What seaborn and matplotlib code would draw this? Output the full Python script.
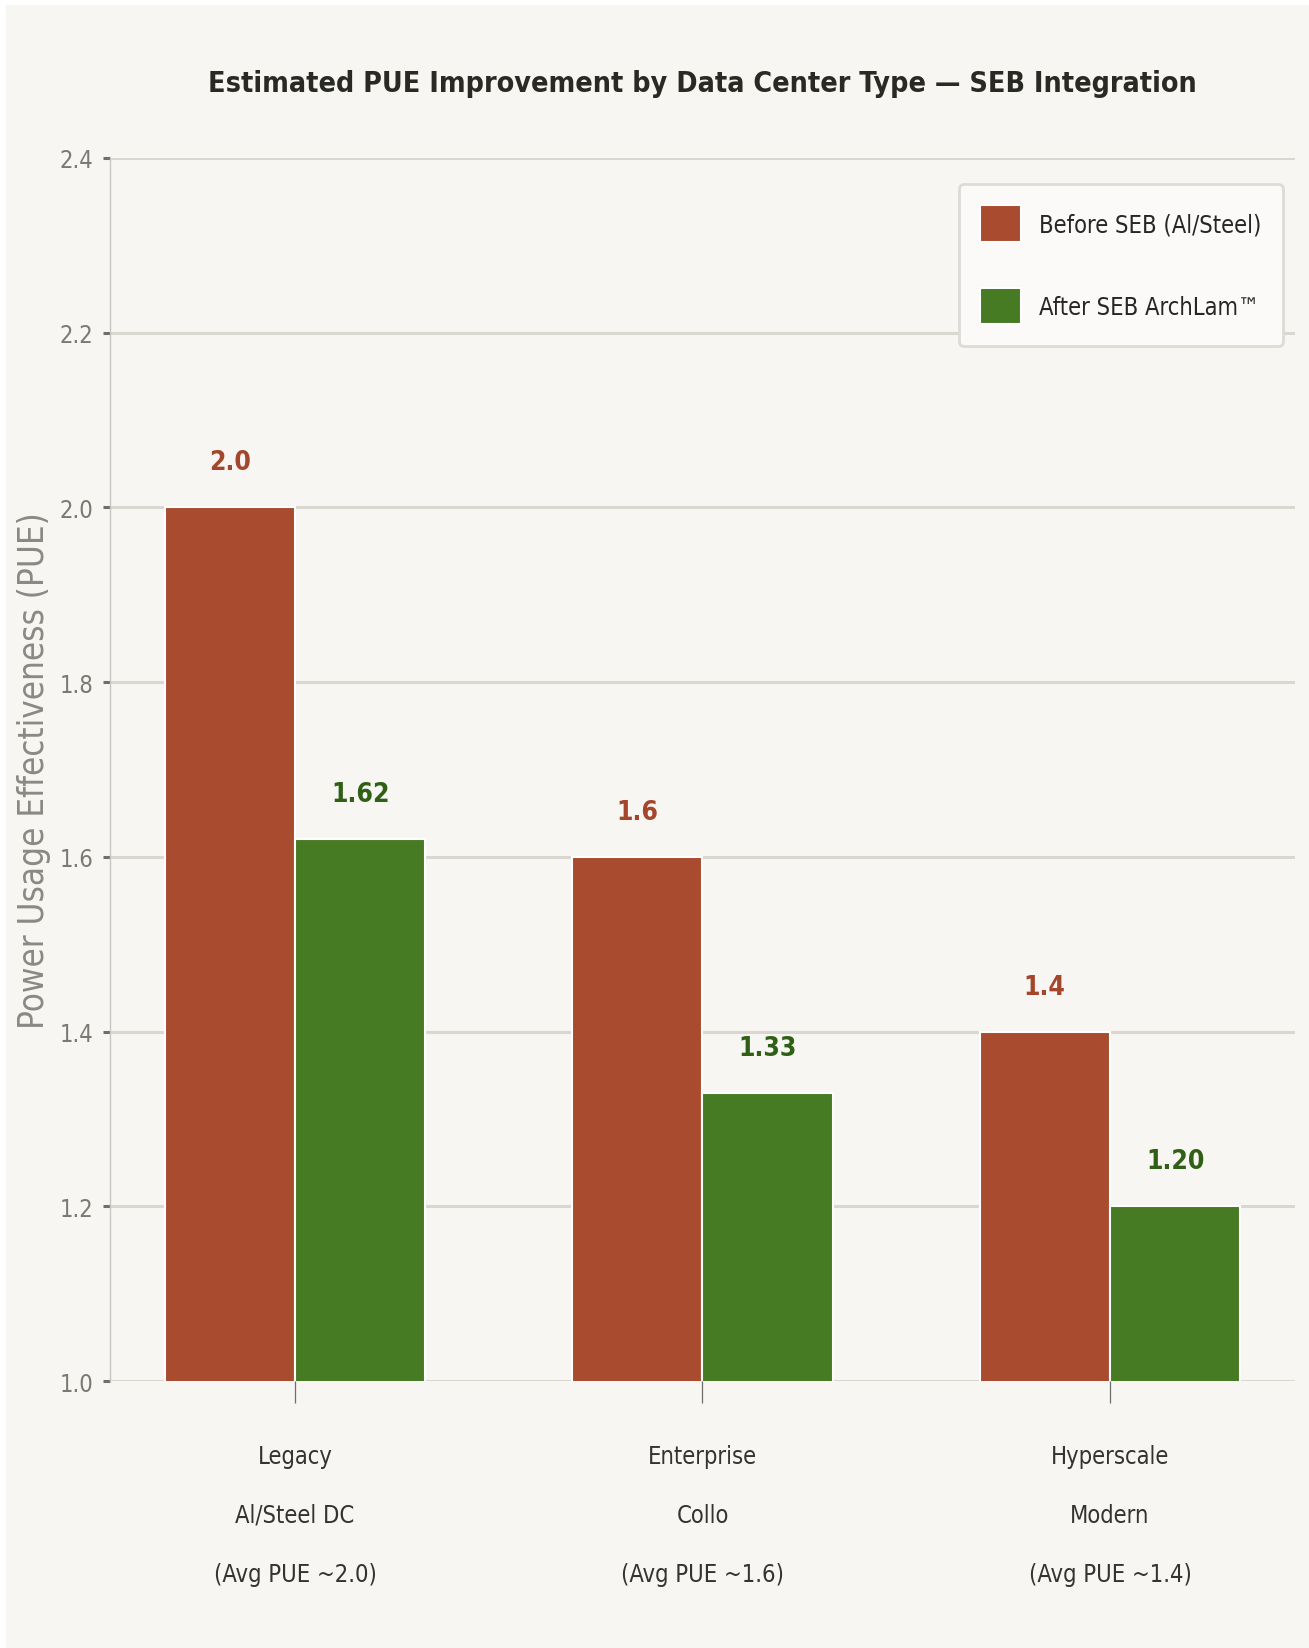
import matplotlib.pyplot as plt
import pandas as pd
import seaborn as sns
from matplotlib import font_manager
from matplotlib.patches import Rectangle

categories = [
    "Legacy\nAl/Steel DC\n(Avg PUE ~2.0)",
    "Enterprise\nCollo\n(Avg PUE ~1.6)",
    "Hyperscale\nModern\n(Avg PUE ~1.4)",
]
series = ["Before SEB (Al/Steel)", "After SEB ArchLam™"]
before_seb = [2.0, 1.6, 1.4]
after_seb = [1.62, 1.33, 1.20]
before_labels = ["2.0", "1.6", "1.4"]
after_labels = ["1.62", "1.33", "1.20"]
yticks = [1.0, 1.2, 1.4, 1.6, 1.8, 2.0, 2.2, 2.4]

BG = "#F7F6F2"
RED = "#A84B2F"
GREEN = "#467A23"
GRID = "#D9D7D0"


def pick_font():
    narrow = [
        f.name
        for f in font_manager.fontManager.ttflist
        if f.stretch == "condensed" or "Condensed" in f.name or "Narrow" in f.name
    ]
    for name in narrow:
        if "DejaVu" in name:
            return name
    if "Liberation Sans Narrow" in narrow:
        return "Liberation Sans Narrow"
    return "DejaVu Sans"


def main():
    frame = pd.DataFrame({"category": categories, series[0]: before_seb, series[1]: after_seb})
    frame = frame.melt(id_vars="category", var_name="series", value_name="pue")

    sns.set_theme(style="whitegrid")
    plt.rcParams["font.family"] = [pick_font(), "DejaVu Sans"]
    plt.rcParams["font.stretch"] = "condensed"

    fig = plt.figure(figsize=(13.09, 16.49), dpi=100, facecolor="white")
    fig.add_artist(Rectangle((0.0046, 0), 1, 0.9963, transform=fig.transFigure, color=BG, zorder=-1))
    ax = fig.add_axes([0.0840, 0.1619, 0.9053, 0.7417])
    ax.set_facecolor(BG)

    sns.barplot(
        data=frame,
        x="category",
        y="pue",
        hue="series",
        palette=[RED, GREEN],
        saturation=1,
        width=0.64,
        errorbar=None,
        edgecolor="white",
        linewidth=1.5,
        ax=ax,
    )
    for container, labels, color in zip(ax.containers, [before_labels, after_labels], ["#A3462B", "#2F6016"]):
        ax.bar_label(container, labels=labels, padding=23, color=color, fontsize=19, fontweight="bold")

    ax.set_ylim(1.0, 2.4)
    ax.set_xlim(-0.454, 2.454)
    ax.set_yticks(yticks)
    ax.set_yticklabels([f"{t:.1f}" for t in yticks])
    ax.set_axisbelow(True)
    ax.grid(axis="y", color=GRID, linewidth=2.2)
    ax.grid(axis="x", visible=False)
    for side in ["top", "right", "bottom"]:
        ax.spines[side].set_visible(False)
    ax.spines["left"].set_color("#C8C6C0")
    ax.spines["left"].set_linewidth(1)

    ax.tick_params(axis="y", left=True, length=5, width=2.2, color="#6E6E6A", pad=7, labelsize=17, labelcolor="#7A7A75")
    ax.tick_params(axis="x", bottom=True, length=16, width=0.9, color="#6E6E6A", pad=29, labelsize=17, labelcolor="#333330")
    for label in ax.get_xticklabels():
        label.set_linespacing(2.85)

    ax.set_xlabel("")
    ax.set_ylabel("Power Usage Effectiveness (PUE)", fontsize=25, color="#8A8A85", labelpad=6)
    ax.set_title(
        "Estimated PUE Improvement by Data Center Type — SEB Integration",
        fontsize=20.5,
        fontweight="bold",
        color="#2A2A25",
        pad=48,
    )

    handles, labels = ax.get_legend_handles_labels()
    legend = ax.legend(
        handles,
        labels,
        loc="upper right",
        bbox_to_anchor=(0.9899, 0.9787),
        borderaxespad=0,
        fontsize=17,
        handlelength=1.7,
        handleheight=2.0,
        handletextpad=0.8,
        labelspacing=1.95,
        borderpad=0.9,
        frameon=True,
        fancybox=True,
        facecolor="#FBFAF8",
        edgecolor="#DDDBD5",
        framealpha=1,
    )
    legend.get_frame().set_linewidth(2)

    fig.savefig("out.png", dpi=100, facecolor=fig.get_facecolor())


if __name__ == "__main__":
    main()
